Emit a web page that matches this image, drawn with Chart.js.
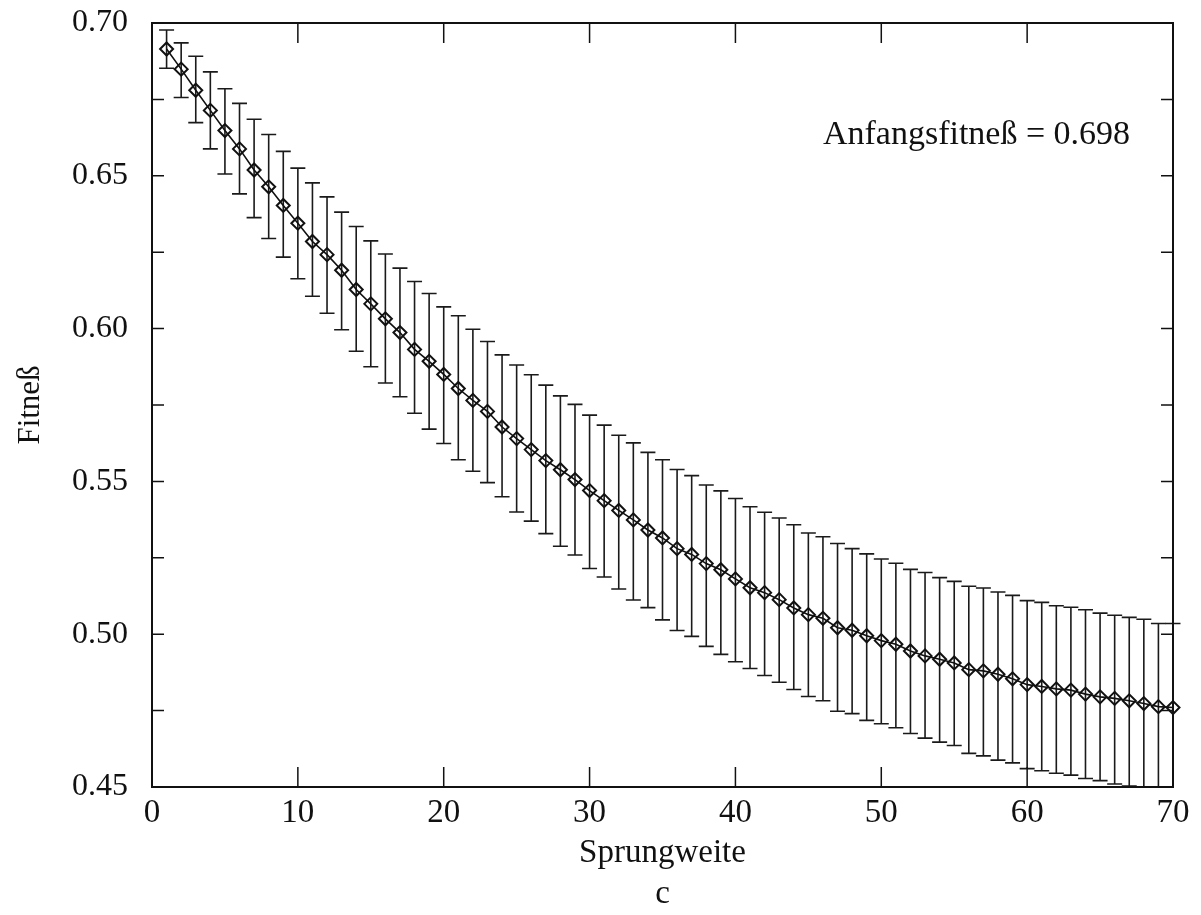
<!DOCTYPE html>
<html><head><meta charset="utf-8">
<script src="https://cdn.jsdelivr.net/npm/chart.js@4.4.0/dist/chart.umd.min.js"></script>
<style>html,body{margin:0;padding:0;background:#fff}#wrap{width:1201px;height:915px}</style>
</head><body><div id="wrap"><canvas id="c" width="1201" height="915"></canvas></div>
<script>
const sprungweite = [1,2,3,4,5,6,7,8,9,10,11,12,13,14,15,16,17,18,19,20,21,22,23,24,25,26,27,28,29,30,31,32,33,34,35,36,37,38,39,40,41,42,43,44,45,46,47,48,49,50,51,52,53,54,55,56,57,58,59,60,61,62,63,64,65,66,67,68,69,70];
const fitnessMean = [0.6915,0.6849,0.6780,0.6714,0.6648,0.6588,0.6519,0.6464,0.6403,0.6345,
 0.6285,0.6242,0.6191,0.6128,0.6081,0.6032,0.5987,0.5932,0.5893,0.5850,
 0.5804,0.5765,0.5729,0.5678,0.5640,0.5604,0.5568,0.5538,0.5506,0.5470,
 0.5437,0.5405,0.5374,0.5341,0.5315,0.5280,0.5261,0.5231,0.5211,0.5181,
 0.5152,0.5136,0.5113,0.5086,0.5064,0.5052,0.5021,0.5013,0.4995,0.4979,
 0.4967,0.4945,0.4929,0.4918,0.4906,0.4884,0.4880,0.4869,0.4854,0.4835,
 0.4829,0.4821,0.4817,0.4804,0.4795,0.4790,0.4782,0.4773,0.4763,0.4760];
const fitnessUpper = [0.6977,0.6935,0.6891,0.6840,0.6785,0.6737,0.6685,0.6635,0.6580,0.6525,
 0.6477,0.6431,0.6381,0.6334,0.6287,0.6244,0.6198,0.6154,0.6115,0.6071,
 0.6042,0.5998,0.5958,0.5914,0.5881,0.5849,0.5815,0.5780,0.5752,0.5717,
 0.5684,0.5651,0.5626,0.5595,0.5571,0.5539,0.5519,0.5488,0.5469,0.5444,
 0.5417,0.5399,0.5380,0.5358,0.5331,0.5319,0.5297,0.5280,0.5263,0.5246,
 0.5232,0.5212,0.5202,0.5185,0.5173,0.5157,0.5151,0.5138,0.5127,0.5110,
 0.5104,0.5093,0.5088,0.5080,0.5069,0.5062,0.5055,0.5049,0.5035,0.5035];
const fitnessLower = [0.6852,0.6756,0.6674,0.6588,0.6506,0.6441,0.6363,0.6295,0.6234,0.6163,
 0.6106,0.6050,0.5996,0.5926,0.5875,0.5822,0.5777,0.5723,0.5671,0.5624,
 0.5571,0.5533,0.5496,0.5450,0.5400,0.5370,0.5329,0.5288,0.5259,0.5215,
 0.5187,0.5148,0.5112,0.5087,0.5047,0.5012,0.4993,0.4960,0.4934,0.4910,
 0.4888,0.4865,0.4843,0.4819,0.4796,0.4782,0.4748,0.4740,0.4718,0.4707,
 0.4694,0.4675,0.4660,0.4647,0.4636,0.4610,0.4602,0.4588,0.4579,0.4560,
 0.4553,0.4545,0.4539,0.4528,0.4521,0.4510,0.4503,0.4495,0.4485,0.4485];
const yTickLabels = ['0.45','0.50','0.55','0.60','0.65','0.70'];
const xTickLabels = ['0','10','20','30','40','50','60','70'];
const xTitle = 'Sprungweite';
const subCaption = 'c';
const yTitle = 'Fitneß';
const annotationText = 'Anfangsfitneß = 0.698';

const FONT = '"Liberation Serif", "Times New Roman", serif';
const INK = '#111';

const errorBarPlugin = {
  id: 'errorBars',
  beforeDatasetsDraw(chart) {
    const {ctx, chartArea: a, scales: {x, y}} = chart;
    ctx.save();
    ctx.beginPath();
    ctx.rect(a.left - 12, a.top, a.right - a.left + 24, a.bottom - a.top);
    ctx.clip();
    ctx.strokeStyle = '#1a1a1a';
    ctx.lineWidth = 1.6;
    const cap = 7.5;
    for (let i = 0; i < sprungweite.length; i++) {
      const px = x.getPixelForValue(sprungweite[i]);
      const yt = y.getPixelForValue(fitnessUpper[i]);
      const yb = y.getPixelForValue(fitnessLower[i]);
      ctx.beginPath();
      ctx.moveTo(px, yt); ctx.lineTo(px, yb);
      ctx.moveTo(px - cap, yt); ctx.lineTo(px + cap, yt);
      ctx.moveTo(px - cap, yb); ctx.lineTo(px + cap, yb);
      ctx.stroke();
    }
    ctx.restore();
  }
};

const framePlugin = {
  id: 'frameTicks',
  afterDraw(chart) {
    const {ctx, chartArea: a, scales: {x, y}} = chart;
    ctx.save();
    ctx.strokeStyle = INK;
    ctx.lineWidth = 2;
    ctx.strokeRect(a.left, a.top, a.right - a.left, a.bottom - a.top);
    ctx.lineWidth = 1.5;
    ctx.beginPath();
    y.ticks.forEach(t => {
      const py = y.getPixelForValue(t.value);
      ctx.moveTo(a.left, py); ctx.lineTo(a.left + 12, py);
      ctx.moveTo(a.right, py); ctx.lineTo(a.right - 12, py);
    });
    x.ticks.forEach(t => {
      const px = x.getPixelForValue(t.value);
      ctx.moveTo(px, a.bottom); ctx.lineTo(px, a.bottom - 20);
      ctx.moveTo(px, a.top); ctx.lineTo(px, a.top + 20);
    });
    ctx.stroke();
    // annotation
    ctx.fillStyle = INK;
    ctx.font = '34px ' + FONT;
    ctx.textAlign = 'left';
    ctx.textBaseline = 'alphabetic';
    ctx.fillText(annotationText, x.getPixelForValue(46.0), y.getPixelForValue(0.6605));
    ctx.restore();
  }
};

new Chart(document.getElementById('c'), {
  type: 'line',
  data: {
    datasets: [{
      data: sprungweite.map((s, i) => ({x: s, y: fitnessMean[i]})),
      borderColor: INK,
      borderWidth: 1.6,
      pointStyle: 'rectRot',
      pointRadius: 6.5,
      pointBorderWidth: 2,
      pointBorderColor: INK,
      pointBackgroundColor: 'rgba(0,0,0,0)',
      tension: 0,
      clip: 12
    }]
  },
  options: {
    responsive: false,
    devicePixelRatio: 1,
    animation: false,
    layout: {autoPadding: false, padding: {top: 23, right: 28, left: 0, bottom: 0}},
    plugins: {legend: {display: false}, tooltip: {enabled: false}},
    scales: {
      x: {
        type: 'linear', min: 0, max: 70,
        grid: {display: false, drawTicks: false},
        border: {display: false},
        afterFit(s) { s.height = 128; s.paddingLeft = 0; s.paddingRight = 0; },
        ticks: {
          stepSize: 10, autoSkip: false, maxRotation: 0, padding: 7,
          color: INK, font: {family: FONT, size: 33},
          callback: v => { const l = String(Math.round(v)); return xTickLabels.includes(l) ? l : ''; }
        },
        title: {display: true, text: [xTitle, subCaption], color: INK,
          font: {family: FONT, size: 33, lineHeight: 1.25}, padding: {top: 0, bottom: 0}}
      },
      y: {
        min: 0.45, max: 0.70,
        grid: {display: false, drawTicks: false},
        border: {display: false},
        afterFit(s) { s.width = 152; s.paddingTop = 0; s.paddingBottom = 0; },
        ticks: {
          stepSize: 0.025, autoSkip: false, padding: 24,
          color: INK, font: {family: FONT, size: 32},
          callback: v => { const l = Number(v).toFixed(2); return (yTickLabels.includes(l) && Math.round(v*1000) % 50 === 0) ? l : ''; }
        },
        title: {display: true, text: yTitle, color: INK,
          font: {family: FONT, size: 31}, padding: {top: 12, bottom: 0}}
      }
    }
  },
  plugins: [errorBarPlugin, framePlugin]
});
</script></body></html>
